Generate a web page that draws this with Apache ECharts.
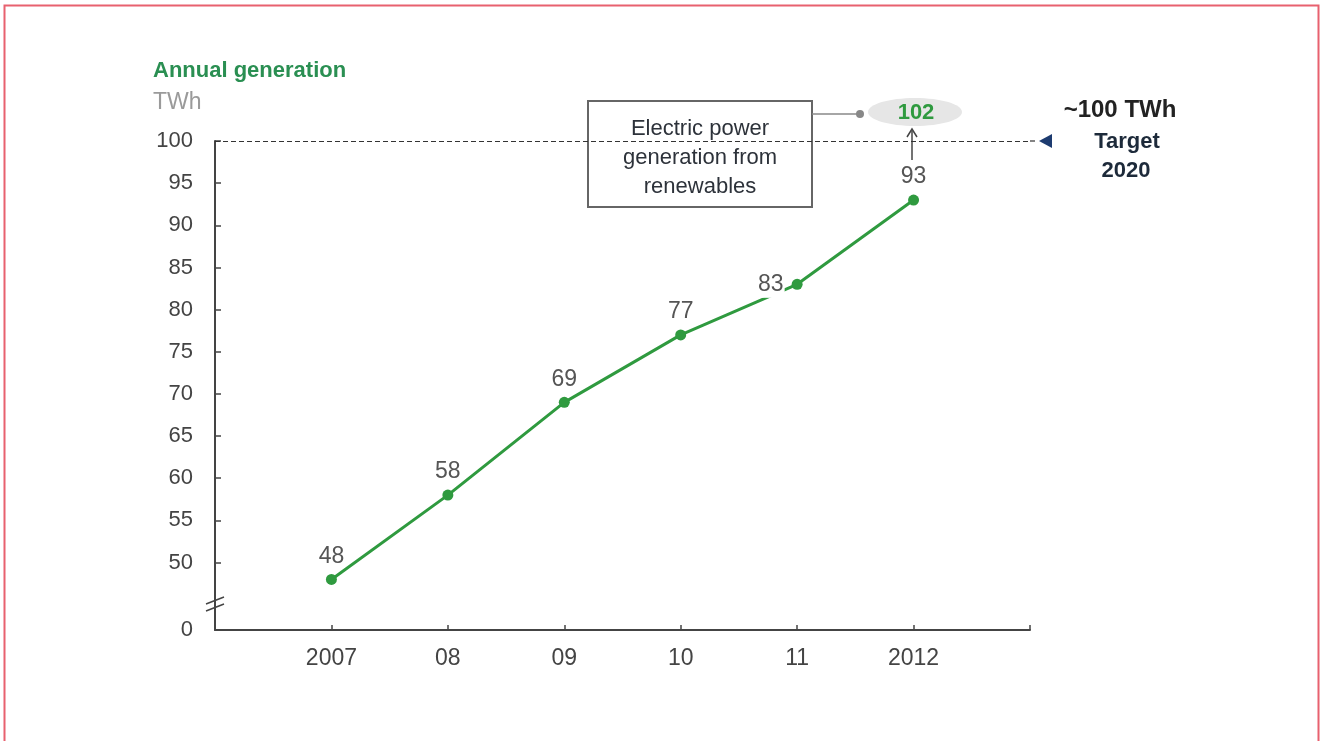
<!DOCTYPE html>
<html>
<head>
<meta charset="utf-8">
<script src="https://cdn.jsdelivr.net/npm/echarts@6/dist/echarts.min.js"></script>
<style>
  html, body { margin: 0; padding: 0; background: #fff; }
  #main { width: 1320px; height: 741px; }
</style>
</head>
<body>
<div id="main"></div>
<script>
// data
var years = [2007, 2008, 2009, 2010, 2011, 2012];
var yearLabels = ['2007', '08', '09', '10', '11', '2012'];
var generation = [48, 58, 69, 77, 83, 93];
var labelSide = ['top', 'top', 'top', 'top', 'left', 'top'];
var yTicks = [50, 55, 60, 65, 70, 75, 80, 85, 90, 95, 100];
var target = 100;

var green = '#2f9a3f';
var font = '"Liberation Sans", Arial, sans-serif';

var points = [];
for (var i = 0; i < years.length; i++) {
    var p = { value: [years[i], generation[i]] };
    if (labelSide[i] != 'top') {
        // this label sits on the line, white box hides it
        p.label = { position: labelSide[i], distance: 7, backgroundColor: '#fff', padding: [2, 1] };
    }
    points.push(p);
}

var chart = echarts.init(document.getElementById('main'));
var option = {
    animation: false,
    textStyle: { fontFamily: font },
    grid: { left: 215, right: 290, top: 141, bottom: 111 },
    xAxis: {
        type: 'value',
        min: 2006,
        max: 2013,
        splitLine: { show: false },
        axisLine: { lineStyle: { color: '#444', width: 2 } },
        axisTick: {
            show: true, inside: true, length: 5,
            customValues: years.concat([2013]),
            lineStyle: { color: '#444', width: 1.5 }
        },
        axisLabel: {
            customValues: years,
            margin: 17,
            fontSize: 23,
            color: '#444',
            formatter: function (v) {
                var k = years.indexOf(v);
                return k >= 0 ? yearLabels[k] : '';
            }
        }
    },
    yAxis: {
        type: 'value',
        min: 42,
        max: 100,
        splitLine: { show: false },
        axisLine: { show: true, lineStyle: { color: '#444', width: 2 } },
        axisTick: {
            show: true, inside: true, length: 6,
            customValues: yTicks,
            lineStyle: { color: '#444', width: 1.5 }
        },
        axisLabel: {
            customValues: [42].concat(yTicks),
            margin: 22,
            fontSize: 22,
            color: '#444',
            formatter: function (v) { return v === 42 ? '0' : String(v); }
        }
    },
    series: [{
        type: 'line',
        data: points,
        symbol: 'circle',
        symbolSize: 11,
        lineStyle: { color: green, width: 3 },
        itemStyle: { color: green },
        label: {
            show: true,
            position: 'top',
            distance: 6,
            fontSize: 23,
            color: '#555',
            formatter: function (p) { return p.value[1]; }
        },
        markLine: {
            silent: true,
            symbol: 'none',
            label: { show: false },
            lineStyle: { color: '#333', type: [5, 3], width: 1.2 },
            data: [{ yAxis: target }]
        }
    }],
    graphic: [
        // page frame
        { type: 'rect', shape: { x: 4.5, y: 5.5, width: 1314, height: 760 },
          style: { fill: 'none', stroke: '#e8616f', lineWidth: 2 } },
        // titles
        { type: 'text', x: 153, y: 71,
          style: { text: 'Annual generation', font: 'bold 22px ' + font, fill: '#2a8f52', verticalAlign: 'middle' } },
        { type: 'text', x: 153, y: 103,
          style: { text: 'TWh', font: '23px ' + font, fill: '#9a9a9a', verticalAlign: 'middle' } },
        // axis break
        { type: 'rect', shape: { x: 210, y: 601, width: 10, height: 6 }, style: { fill: '#fff' } },
        { type: 'line', shape: { x1: 206, y1: 604, x2: 224, y2: 597 }, style: { stroke: '#444', lineWidth: 1.5 } },
        { type: 'line', shape: { x1: 206, y1: 611, x2: 224, y2: 604 }, style: { stroke: '#444', lineWidth: 1.5 } },
        // dashed target line extension and marker
        { type: 'line', shape: { x1: 1030, y1: 141, x2: 1038, y2: 141 },
          style: { stroke: '#333', lineWidth: 1.2, lineDash: [5, 3] } },
        { type: 'polygon', shape: { points: [[1039, 141], [1052, 134], [1052, 148]] },
          style: { fill: '#1d3b70' } },
        { type: 'text', x: 1120, y: 110,
          style: { text: '~100 TWh', font: 'bold 24px ' + font, fill: '#222', align: 'center', verticalAlign: 'middle' } },
        { type: 'text', x: 1127, y: 142,
          style: { text: 'Target', font: 'bold 22px ' + font, fill: '#1d2a3a', align: 'center', verticalAlign: 'middle' } },
        { type: 'text', x: 1126, y: 171,
          style: { text: '2020', font: 'bold 22px ' + font, fill: '#1d2a3a', align: 'center', verticalAlign: 'middle' } },
        // annotation box
        { type: 'rect', shape: { x: 588, y: 101, width: 224, height: 106 },
          style: { fill: '#fff', stroke: '#666', lineWidth: 2 } },
        { type: 'text', x: 700, y: 158,
          style: { text: 'Electric power\ngeneration from\nrenewables', font: '22px ' + font,
                   lineHeight: 29, fill: '#2d323a', align: 'center', verticalAlign: 'middle' } },
        { type: 'line', shape: { x1: 812, y1: 114, x2: 860, y2: 114 }, style: { stroke: '#888', lineWidth: 1.5 } },
        { type: 'circle', shape: { cx: 860, cy: 114, r: 4 }, style: { fill: '#888' } },
        { type: 'ellipse', shape: { cx: 915, cy: 112, rx: 47, ry: 14 }, style: { fill: '#e6e6e6' } },
        { type: 'text', x: 916, y: 113,
          style: { text: '102', font: 'bold 22px ' + font, fill: '#2f9a3f', align: 'center', verticalAlign: 'middle' } },
        // arrow 93 -> 102
        { type: 'line', shape: { x1: 912, y1: 160, x2: 912, y2: 131 }, style: { stroke: '#444', lineWidth: 1.5 } },
        { type: 'polyline', shape: { points: [[907, 137], [912, 129], [917, 137]] },
          style: { stroke: '#444', lineWidth: 1.5, fill: 'none' } }
    ]
};
chart.setOption(option);
</script>
</body>
</html>
